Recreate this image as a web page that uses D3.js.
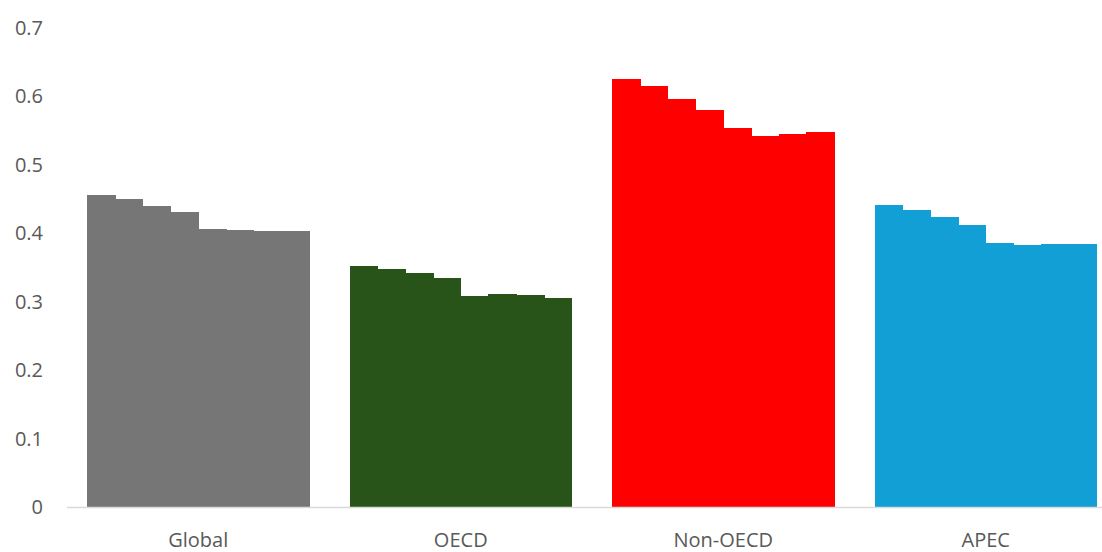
<!DOCTYPE html>
<html><head><meta charset="utf-8">
<script src="https://cdn.jsdelivr.net/npm/d3@7"></script>
<style>body{margin:0;background:#fff}svg{display:block}</style>
</head><body><svg id="c" width="1102" height="552"></svg>
<script>
const categories = ["Global","OECD","Non-OECD","APEC"];
const globalValues = [0.456,0.449,0.440,0.431,0.406,0.405,0.403,0.403];
const oecdValues = [0.352,0.348,0.342,0.335,0.308,0.311,0.310,0.305];
const nonOecdValues = [0.625,0.614,0.595,0.580,0.554,0.542,0.544,0.547];
const apecValues = [0.441,0.433,0.423,0.411,0.386,0.383,0.384,0.384];
const yTicks = [0,0.1,0.2,0.3,0.4,0.5,0.6,0.7];
const colors = ["#767676","#285419","#FF0000","#119FD6"];

const series = [globalValues,oecdValues,nonOecdValues,apecValues];
const svg = d3.select("#c");
const y = d3.scaleLinear().domain([0,0.7]).range([507,27.5]);
const x0 = d3.scaleBand().domain(categories).range([67,1117]).paddingInner(0.155).paddingOuter(0.0775);
const x1 = d3.scaleBand().domain(d3.range(8)).range([0,x0.bandwidth()]).padding(0);

categories.forEach((c,i)=>{
  const g = svg.append("g").attr("transform",`translate(${x0(c)},0)`);
  g.selectAll("rect").data(series[i]).join("rect")
    .attr("x",(d,j)=>x1(j)).attr("width",x1.bandwidth()+0.6)
    .attr("y",d=>y(d)).attr("height",d=>y(0)-y(d))
    .attr("fill",colors[i]).attr("shape-rendering","crispEdges");
});

svg.append("line").attr("x1",67).attr("x2",1102).attr("y1",507.5).attr("y2",507.5)
  .attr("stroke","#d9d9d9").attr("stroke-width",1.5);

svg.append("g").selectAll("text").data(yTicks).join("text")
  .attr("x",43).attr("y",d=>y(d)).attr("dy","0.36em").attr("text-anchor","end")
  .attr("font-family","'Open Sans', sans-serif").attr("font-size",20).attr("fill","#595959")
  .text(d=>d3.format("")(d));

svg.append("g").selectAll("text").data(categories).join("text")
  .attr("x",d=>x0(d)+x0.bandwidth()/2).attr("y",547).attr("text-anchor","middle")
  .attr("font-family","'Open Sans', sans-serif").attr("font-size",20).attr("fill","#595959")
  .text(d=>d);
</script></body></html>
